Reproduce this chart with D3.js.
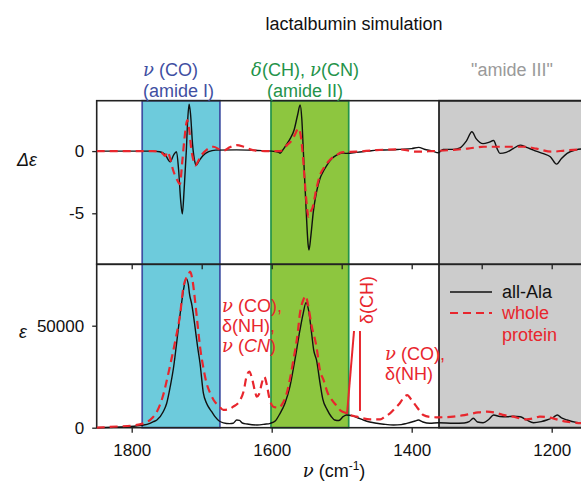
<!DOCTYPE html>
<html><head><meta charset="utf-8">
<script src="https://cdn.jsdelivr.net/npm/d3@7"></script>
<style>body{margin:0;background:#fff}svg{display:block}text{font-family:"Liberation Sans",Arial,sans-serif}</style>
</head><body>
<script>
// ---------- data ----------
const title = "lactalbumin simulation";
const xTicksMajor = [1800, 1600, 1400, 1200];
const xTicksMinor = [1800, 1700, 1600, 1500, 1400, 1300, 1200];
const yTicksTop = [0, -5];
const yTicksBottom = [0, 50000];
const regions = [
  {from: 1785, to: 1674, fill: "#6dcbdc", stroke: "#3f4fa2"},
  {from: 1601, to: 1490, fill: "#8dc63f", stroke: "#24934a"},
  {from: 1361, to: 1100, fill: "#cccccc", stroke: "#1a1a1a"}
];
// Δε, all-Ala (black)
const dAla = [[1850,0],[1800,0],[1770,0],[1760,-0.05],[1752,-0.3],[1745,-0.86],[1740,-0.3],[1736,-0.05],[1733,-1.5],[1730,-4.0],[1727.7,-5.05],[1725,-3],[1722,0],[1720,2.5],[1718,3.77],[1716,3.0],[1713,0.5],[1710,-0.8],[1708,-1.15],[1704,-0.8],[1698,-0.35],[1690,-0.05],[1680,0.08],[1650,0.1],[1620,0.05],[1600,0],[1590,-0.1],[1588,-0.18],[1584,0.1],[1578,0.6],[1573.6,1.0],[1568,1.7],[1563,2.9],[1559.4,3.7],[1557,2.6],[1554.8,0],[1551,-4.5],[1548,-7.5],[1546.7,-7.95],[1544,-6.8],[1540.6,-4.9],[1536,-3.3],[1531,-2.2],[1526,-1.6],[1521,-1.12],[1514,-0.6],[1507,-0.32],[1500,-0.15],[1493,-0.18],[1479,-0.1],[1462,0],[1450,0.08],[1430,0.1],[1417,0.14],[1400,0.2],[1390,0.3],[1382,0.15],[1370,0],[1362,-0.13],[1355,0.14],[1340,0.14],[1331,0.25],[1322,0.8],[1314,1.55],[1308,1.0],[1298,0.6],[1290,0.7],[1283,0.85],[1278,0.2],[1274,-0.18],[1265,-0.1],[1255,0.2],[1245,0.48],[1236,0.3],[1226,0.08],[1212,-0.2],[1202,-0.45],[1193,-1.05],[1186,-0.6],[1178,-0.18],[1165,0.1],[1150,0.2]];
// Δε, whole protein (red dashed)
const dProt = [[1850,0],[1770,0],[1758,-0.1],[1752,-0.4],[1749,-0.05],[1745,-0.6],[1741,-1.5],[1736,-2.2],[1731,-2.65],[1728,-1.0],[1725,0.8],[1722,2.2],[1720.6,2.5],[1718,1.8],[1715,0.2],[1712,-0.7],[1709,-1.15],[1705,-0.8],[1700,-0.3],[1693,0.1],[1683,0.35],[1675,0.15],[1668,0.05],[1660,0.3],[1650,0.48],[1640,0.35],[1627,0.08],[1610,0],[1590,0],[1585,0.05],[1578,0.5],[1573,0.75],[1567,1.3],[1562,1.82],[1559,1.4],[1556,0],[1552,-3],[1549,-4.8],[1547.7,-5.27],[1545,-4.9],[1542,-4.6],[1536,-3.0],[1531,-1.93],[1525,-1.3],[1517,-0.72],[1507,-0.3],[1500,-0.1],[1480,-0.05],[1450,0.08],[1420,0.14],[1410,0.1],[1395,-0.05],[1370,0],[1340,0.1],[1320,0.2],[1297,0.35],[1260,0.35],[1240,0.35],[1222,0.2],[1200,-0.05],[1180,0.05],[1150,0.15]];
// ε, all-Ala (black)
const eAla = [[1850,0],[1807,490],[1783,1300],[1774,2150],[1769,2940],[1764,3770],[1755,7800],[1750,12000],[1745,20100],[1740,30000],[1736,41000],[1731,55200],[1726,67500],[1722.4,73200],[1719,70000],[1717.6,66000],[1714,60100],[1709.6,49500],[1706,40000],[1702.4,31600],[1697.6,16900],[1693,12000],[1690.6,10300],[1686,8000],[1681,5400],[1675,3300],[1669,2400],[1660,2000],[1655,2150],[1650,3770],[1646,3600],[1642,2300],[1635,1800],[1621,1300],[1610,1700],[1602,2150],[1595,3300],[1588,7060],[1581,12000],[1574,20100],[1567,33000],[1559.6,47900],[1555,56000],[1551,61300],[1547,57000],[1543,46300],[1540,38000],[1536,33200],[1531,22000],[1527,14000],[1521,9000],[1515,5500],[1510,3770],[1504,3500],[1498,5400],[1493,6200],[1486,6000],[1478,5000],[1469,3770],[1460,2800],[1450,2150],[1440,1700],[1426,1300],[1415,1500],[1407,2150],[1395,3300],[1390.6,3770],[1384,2800],[1374,2150],[1362,2450],[1340,2150],[1325,2300],[1318,2940],[1312,4600],[1306,2800],[1298,2450],[1290,4000],[1283,6200],[1274,5500],[1264,5400],[1255,5600],[1245,5400],[1236,3800],[1226,2450],[1215,3000],[1207,3770],[1198,5000],[1192,6200],[1186,4800],[1178,3770],[1165,2600],[1150,2150]];
// ε, whole protein (red dashed)
const eProt = [[1850,0],[1820,600],[1800,1000],[1783,2150],[1770,5000],[1764,7840],[1755,16000],[1750,23000],[1745,30700],[1738,42200],[1731,55200],[1726,69100],[1722,73500],[1719,74900],[1716.7,76500],[1713,72000],[1709.6,62600],[1706,51000],[1702.4,39700],[1698,30000],[1693,21800],[1688,17000],[1683,13600],[1675,10500],[1669,8700],[1662,9000],[1655,10300],[1645,13600],[1640,18000],[1636,25000],[1632,27500],[1628,24000],[1624,18000],[1621.4,15200],[1618,16500],[1614,22000],[1610.6,25000],[1607,21000],[1603,14000],[1597.7,10300],[1590,9800],[1586,11000],[1578.6,16900],[1569,33200],[1563,46000],[1559.6,56100],[1555,62500],[1551.4,64600],[1548,60000],[1543,50000],[1536,39700],[1531,28000],[1526,23400],[1520,17000],[1514,13600],[1508,11000],[1502,8500],[1493,7060],[1486,6000],[1478.6,5400],[1470,4600],[1459.6,4100],[1445,4100],[1438,5500],[1431,7060],[1424,9500],[1417,12000],[1411,15000],[1406.3,16000],[1401,14000],[1393,10300],[1388,8000],[1383.4,6200],[1374,5300],[1364,5100],[1350,5200],[1340.6,5400],[1328,6000],[1317,6700],[1305,7500],[1293,7840],[1280,7300],[1270,6300],[1255,5400],[1245,4600],[1236,4100],[1226,4600],[1217,5400],[1208,5200],[1198,4600],[1188,3600],[1179,2940],[1165,2400],[1150,2000]];
// δ(CH) pointer lines [ν, ε]
const chPointers = [[[1482.4,47400],[1492.4,6700]], [[1473.9,47400],[1473.9,8200]]];

// ---------- layout ----------
const W = 581, H = 487;
const red = "#e8262d";
const svg = d3.select("body").append("svg").attr("width", W).attr("height", H);
const x = d3.scaleLinear().domain([1850, 1150]).range([96.7, 586.7]);
const yTop = d3.scaleLinear().domain([-9.1, 4.05]).range([264.3, 100.7]);
const yBot = d3.scaleLinear().domain([0, 80100]).range([427.7, 264.3]);
const plotTop = 100.7, plotMid = 264.3, plotBot = 427.7;
const fmt = d => String(d); // plain hyphen-minus as in the original

// regions
svg.append("clipPath").attr("id","c").append("rect")
  .attr("x", 96.7).attr("y", 0).attr("width", 490).attr("height", H);
svg.append("g").attr("clip-path","url(#c)").selectAll("rect").data(regions).join("rect")
  .attr("x", d => x(d.from)).attr("width", d => x(d.to) - x(d.from))
  .attr("y", plotTop).attr("height", plotBot - plotTop)
  .attr("fill", d => d.fill).attr("stroke", d => d.stroke).attr("stroke-width", 1.7);

// axes
const tickStyle = g => { g.select(".domain").remove(); g.selectAll("line").attr("stroke","#222").attr("stroke-width",1.3); g.selectAll("text").attr("font-size", 17).attr("fill","#111").attr("font-family","Liberation Sans, Arial, sans-serif"); };
svg.append("g").attr("transform", `translate(0,${plotMid})`)
  .call(d3.axisBottom(x).tickValues(xTicksMinor).tickSize(5).tickFormat(""))
  .call(tickStyle);
svg.append("g").attr("transform", `translate(0,${plotBot})`)
  .call(d3.axisBottom(x).tickValues(xTicksMajor).tickSize(5).tickPadding(11).tickFormat(fmt))
  .call(tickStyle);
svg.append("g").attr("transform", `translate(96.7,0)`)
  .call(d3.axisLeft(yTop).tickValues(yTicksTop).tickSize(4.5).tickPadding(8).tickFormat(fmt))
  .call(tickStyle);
svg.append("g").attr("transform", `translate(96.7,0)`)
  .call(d3.axisLeft(yBot).tickValues(yTicksBottom).tickSize(4.5).tickPadding(8).tickFormat(fmt))
  .call(tickStyle);

// frames
[[plotTop, plotMid], [plotMid, plotBot]].forEach(([a, b]) => {
  svg.append("rect").attr("x", 96.7).attr("y", a).attr("width", 490).attr("height", b - a)
    .attr("fill", "none").attr("stroke", "#222").attr("stroke-width", 1.6);
});

// curves
const g = svg.append("g").attr("clip-path","url(#c)");
const lineTop = d3.line().x(d => x(d[0])).y(d => yTop(d[1])).curve(d3.curveMonotoneX);
const lineBot = d3.line().x(d => x(d[0])).y(d => yBot(d[1])).curve(d3.curveMonotoneX);
g.append("path").attr("d", lineTop(dAla)).attr("fill","none").attr("stroke","#111").attr("stroke-width",1.4);
g.append("path").attr("d", lineTop(dProt)).attr("fill","none").attr("stroke",red).attr("stroke-width",2.2).attr("stroke-dasharray","8,5");
g.append("path").attr("d", lineBot(eAla)).attr("fill","none").attr("stroke","#111").attr("stroke-width",1.4);
g.append("path").attr("d", lineBot(eProt)).attr("fill","none").attr("stroke",red).attr("stroke-width",2.2).attr("stroke-dasharray","8,5");

// δ(CH) pointer lines
chPointers.forEach(p => {
  svg.append("line").attr("x1", x(p[0][0])).attr("y1", yBot(p[0][1])).attr("x2", x(p[1][0])).attr("y2", yBot(p[1][1]))
    .attr("stroke", red).attr("stroke-width", 2);
});

// text helpers
const serif = "DejaVu Serif, Liberation Serif, serif";
function txt(xp, yp, parts, opts = {}) {
  const t = svg.append("text").attr("x", xp).attr("y", yp).attr("font-size", opts.size || 18)
    .attr("fill", opts.fill || "#111").attr("text-anchor", opts.anchor || "start");
  if (opts.transform) t.attr("transform", opts.transform);
  parts.forEach(p => {
    if (typeof p === "string") t.append("tspan").text(p);
    else { const s = t.append("tspan").text(p.t); if (p.serif) s.attr("font-family", serif); if (p.it) s.attr("font-style","italic"); if (p.sup) s.attr("baseline-shift","super").attr("font-size", 12); }
  });
  return t;
}

// title & region labels
txt(354, 30, [title], {anchor: "middle"});
const blue = "#3f4fa2", green = "#24934a";
txt(143, 76, [{t:"ν", serif:true, it:true}, " (CO)"], {fill: blue});
txt(143, 97, ["(amide I)"], {fill: blue});
txt(305, 76, [{t:"δ", serif:true, it:true}, "(CH), ", {t:"ν", serif:true, it:true}, "(CN)"], {fill: green, anchor:"middle"});
txt(305, 97, ["(amide II)"], {fill: green, anchor:"middle"});
txt(512, 76, ["\"amide III\""], {fill: "#9a9a9a", anchor:"middle"});

// annotations in lower panel
txt(222, 312, [{t:"ν", serif:true, it:true}, " (CO),"], {fill: red});
txt(222, 332, ["δ(NH),"], {fill: red});
txt(222, 352, [{t:"ν", serif:true, it:true}, " (", {t:"CN", it:true}, ")"], {fill: red});
txt(385, 360, [{t:"ν", serif:true, it:true}, " (CO),"], {fill: red});
txt(385, 380, ["δ(NH)"], {fill: red});
txt(0, 0, ["δ(CH)"], {fill: red, anchor:"middle", transform:"translate(373,300) rotate(-90)"});

// legend
svg.append("line").attr("x1",450).attr("x2",492).attr("y1",292).attr("y2",292).attr("stroke","#111").attr("stroke-width",1.4);
svg.append("line").attr("x1",450).attr("x2",492).attr("y1",313).attr("y2",313).attr("stroke",red).attr("stroke-width",2.2).attr("stroke-dasharray","8,5");
txt(502, 298, ["all-Ala"]);
txt(502, 319, ["whole"], {fill: red});
txt(502, 341, ["protein"], {fill: red});

// axis titles
txt(17, 166, [{t:"Δε", it:true}], {size: 18});
txt(19, 338, [{t:"ε", it:true}], {size: 18});
txt(334, 477, [{t:"ν", serif:true, it:true}, " (cm", {t:"-1", sup:true}, ")"], {anchor:"middle"});
</script>
</body></html>
